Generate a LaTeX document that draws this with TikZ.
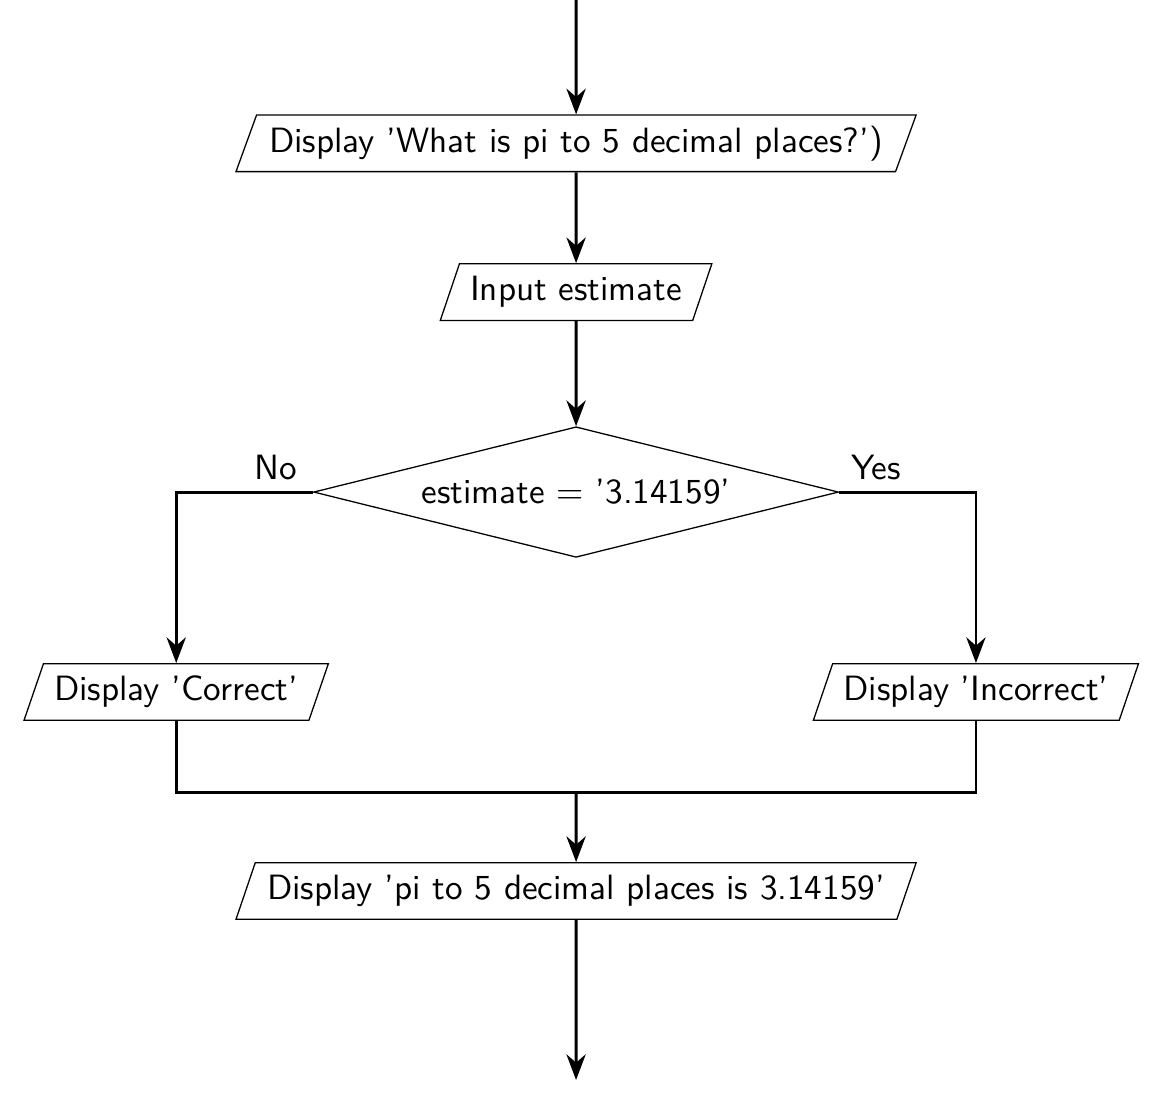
\documentclass[tikz,border=0pt]{standalone}
\usepackage{tikz}
\usetikzlibrary{arrows.meta,shapes.geometric,positioning}

\begin{document}
\begin{tikzpicture}[>={Stealth[length=8pt,width=6pt,inset=2.6pt]},x=1.0cm,y=1.0cm,
  font=\sffamily\fontsize{10.95}{13.6}\selectfont,
  io/.style={draw, trapezium, trapezium left angle=70, trapezium right angle=110,
    trapezium stretches body, minimum height=0.62cm},
  wide/.style={minimum width=7.45cm},
  decide/.style={draw, diamond, aspect=4, minimum width=5.75cm, minimum height=1.43cm, inner sep=0pt},
  flow/.style={line width=0.9pt}]
\useasboundingbox (0,0) rectangle (12.75,12.04);
\coordinate (start) at (6.31,12.04);
\coordinate (stop) at (6.31,0.21);
\coordinate (merge) at (6.31,3.36);
\node[io,wide] (ask) at (6.31,10.47) {Display 'What is pi to 5 decimal places?')};
\node[io] (input) at (6.31,8.84) {Input estimate};
\node[decide] (check) at (6.31,6.65) {estimate = '3.14159'};
\node[io] (right) at (1.93,4.46) {Display 'Correct'};
\node[io] (wrong) at (10.69,4.46) {Display 'Incorrect'};
\node[io,wide] (answer) at (6.31,2.28) {Display 'pi to 5 decimal places is 3.14159'};
\draw[flow,->] (start) -- (ask);
\draw[flow,->] (ask) -- (input);
\draw[flow,->] (input) -- (check);
\draw[flow,->] (check.west) -| node[pos=0.135,above]{No} (right.north);
\draw[flow,->] (check.east) -| node[pos=0.135,above]{Yes} (wrong.north);
\draw[flow] (right.south) |- (merge) -| (wrong.south);
\draw[flow,->] (merge) -- (answer);
\draw[flow,->] (answer) -- (stop);
\end{tikzpicture}
\end{document}
